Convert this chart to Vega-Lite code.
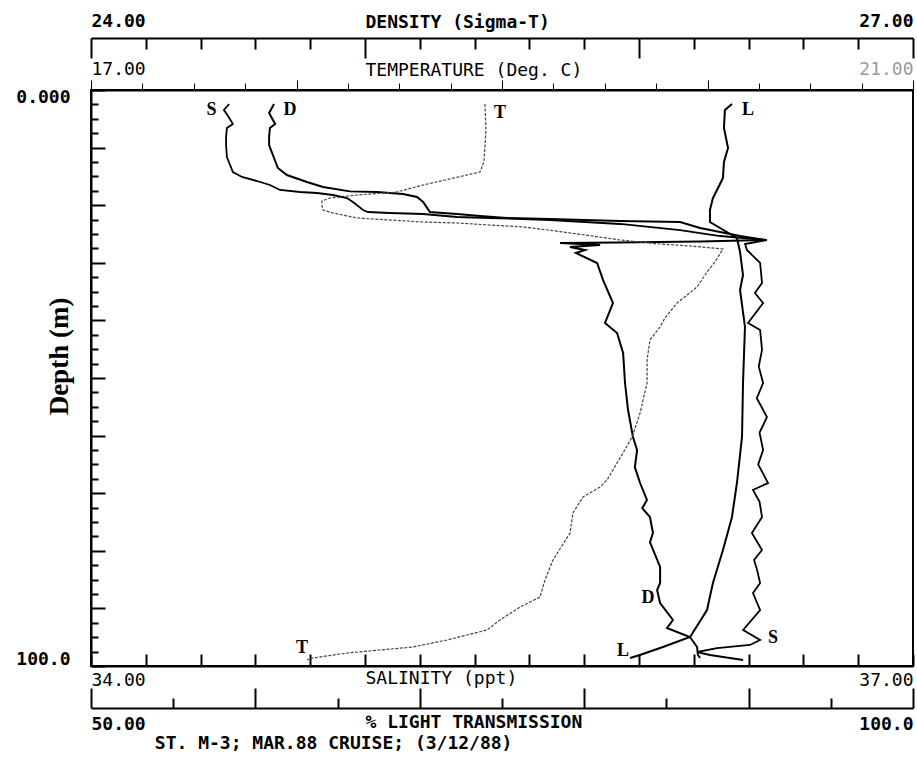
{
  "$schema": "https://vega.github.io/schema/vega-lite/v6.json",
  "width": 822,
  "height": 576,
  "autosize": "none",
  "padding": {"left": 91, "top": 90, "right": 4, "bottom": 99},
  "background": "white",
  "config": {
    "view": {"stroke": "black", "strokeWidth": 2},
    "axis": {
      "grid": false, "domainColor": "black", "domainWidth": 2, "tickColor": "black", "tickWidth": 2,
      "labelColor": "black", "titleColor": "black", "labelFont": "DejaVu Sans Mono", "titleFont": "DejaVu Sans Mono",
      "labelFontSize": 18, "titleFontSize": 18, "labelOverlap": false, "labelAngle": 0
    }
  },
  "title": {
    "text": "ST. M-3; MAR.88 CRUISE; (3/12/88)", "orient": "bottom", "anchor": "start", "dx": 139, "offset": -8,
    "font": "DejaVu Sans Mono", "fontSize": 18, "fontWeight": "bold", "color": "black"
  },
  "datasets": {
    "sal": [
      {"depth": 2.43, "v": 34.504}, {"depth": 3.47, "v": 34.485}, {"depth": 4.51, "v": 34.5}, {"depth": 5.9, "v": 34.518},
      {"depth": 6.6, "v": 34.496}, {"depth": 8.16, "v": 34.493}, {"depth": 9.55, "v": 34.493}, {"depth": 11.63, "v": 34.496},
      {"depth": 14.24, "v": 34.518}, {"depth": 15.1, "v": 34.551}, {"depth": 15.8, "v": 34.606}, {"depth": 16.49, "v": 34.653},
      {"depth": 17.36, "v": 34.69}, {"depth": 17.71, "v": 34.763}, {"depth": 17.88, "v": 34.825}, {"depth": 18.23, "v": 34.883},
      {"depth": 18.75, "v": 34.934}, {"depth": 19.44, "v": 34.956}, {"depth": 20.83, "v": 34.993}, {"depth": 21.18, "v": 35.011},
      {"depth": 21.35, "v": 35.091}, {"depth": 21.53, "v": 35.212}, {"depth": 22.05, "v": 35.336}, {"depth": 22.22, "v": 35.456},
      {"depth": 22.4, "v": 35.577}, {"depth": 22.57, "v": 35.675}, {"depth": 23.26, "v": 35.931}, {"depth": 24.31, "v": 36.15},
      {"depth": 25.35, "v": 36.296}, {"depth": 26.04, "v": 36.467}, {"depth": 26.74, "v": 36.387}, {"depth": 27.78, "v": 36.394},
      {"depth": 30.03, "v": 36.442}, {"depth": 33.51, "v": 36.449}, {"depth": 35.24, "v": 36.423}, {"depth": 36.98, "v": 36.453},
      {"depth": 40.45, "v": 36.398}, {"depth": 41.67, "v": 36.442}, {"depth": 45.14, "v": 36.449}, {"depth": 48.0, "v": 36.437},
      {"depth": 50.87, "v": 36.453}, {"depth": 53.5, "v": 36.43}, {"depth": 56.77, "v": 36.467}, {"depth": 59.5, "v": 36.44},
      {"depth": 62.5, "v": 36.453}, {"depth": 65.0, "v": 36.435}, {"depth": 68.23, "v": 36.471}, {"depth": 69.44, "v": 36.416},
      {"depth": 71.5, "v": 36.44}, {"depth": 74.13, "v": 36.449}, {"depth": 76.91, "v": 36.412}, {"depth": 79.86, "v": 36.449},
      {"depth": 81.6, "v": 36.42}, {"depth": 83.33, "v": 36.431}, {"depth": 85.59, "v": 36.442}, {"depth": 87.33, "v": 36.416},
      {"depth": 90.28, "v": 36.442}, {"depth": 93.75, "v": 36.38}, {"depth": 95.49, "v": 36.442}, {"depth": 96.35, "v": 36.405},
      {"depth": 96.88, "v": 36.285}, {"depth": 97.57, "v": 36.212}, {"depth": 98.09, "v": 36.259}, {"depth": 98.44, "v": 36.307},
      {"depth": 98.96, "v": 36.38}
    ],
    "den": [
      {"depth": 2.43, "v": 24.668}, {"depth": 3.99, "v": 24.65}, {"depth": 5.9, "v": 24.672}, {"depth": 6.6, "v": 24.653},
      {"depth": 8.16, "v": 24.65}, {"depth": 9.55, "v": 24.65}, {"depth": 10.94, "v": 24.661}, {"depth": 13.54, "v": 24.682},
      {"depth": 14.76, "v": 24.715}, {"depth": 15.97, "v": 24.788}, {"depth": 16.84, "v": 24.847}, {"depth": 17.6, "v": 24.945},
      {"depth": 17.71, "v": 25.044}, {"depth": 18.06, "v": 25.139}, {"depth": 18.58, "v": 25.19}, {"depth": 19.44, "v": 25.212},
      {"depth": 21.18, "v": 25.237}, {"depth": 21.35, "v": 25.285}, {"depth": 21.53, "v": 25.336}, {"depth": 21.88, "v": 25.42},
      {"depth": 22.22, "v": 25.518}, {"depth": 22.4, "v": 25.675}, {"depth": 22.74, "v": 25.931}, {"depth": 22.92, "v": 26.15},
      {"depth": 23.96, "v": 26.223}, {"depth": 25.35, "v": 26.369}, {"depth": 26.04, "v": 26.46}, {"depth": 26.3, "v": 26.223},
      {"depth": 26.48, "v": 25.92}, {"depth": 26.56, "v": 25.712}, {"depth": 26.91, "v": 25.858}, {"depth": 27.26, "v": 25.748},
      {"depth": 27.78, "v": 25.803}, {"depth": 28.3, "v": 25.77}, {"depth": 30.03, "v": 25.847}, {"depth": 32.99, "v": 25.869},
      {"depth": 36.98, "v": 25.905}, {"depth": 40.45, "v": 25.876}, {"depth": 42.19, "v": 25.92}, {"depth": 45.66, "v": 25.942},
      {"depth": 50.87, "v": 25.949}, {"depth": 55.56, "v": 25.96}, {"depth": 60.24, "v": 25.978}, {"depth": 62.5, "v": 25.993},
      {"depth": 65.5, "v": 25.985}, {"depth": 68.23, "v": 26.004}, {"depth": 71.18, "v": 26.029}, {"depth": 72.6, "v": 26.012},
      {"depth": 74.13, "v": 26.04}, {"depth": 76.91, "v": 26.051}, {"depth": 78.5, "v": 26.04}, {"depth": 82.81, "v": 26.077},
      {"depth": 85.59, "v": 26.077}, {"depth": 86.81, "v": 26.066}, {"depth": 89.06, "v": 26.077}, {"depth": 92.01, "v": 26.124},
      {"depth": 93.4, "v": 26.102}, {"depth": 94.97, "v": 26.186}, {"depth": 96.7, "v": 26.212}, {"depth": 98.09, "v": 26.215},
      {"depth": 98.61, "v": 26.223}
    ],
    "tmp": [
      {"depth": 2.43, "v": 18.917}, {"depth": 6.94, "v": 18.922}, {"depth": 12.5, "v": 18.912}, {"depth": 14.24, "v": 18.893},
      {"depth": 14.76, "v": 18.83}, {"depth": 15.63, "v": 18.723}, {"depth": 16.49, "v": 18.616}, {"depth": 17.71, "v": 18.489},
      {"depth": 18.23, "v": 18.294}, {"depth": 18.75, "v": 18.163}, {"depth": 19.27, "v": 18.124}, {"depth": 20.14, "v": 18.124},
      {"depth": 20.83, "v": 18.129}, {"depth": 21.35, "v": 18.178}, {"depth": 22.22, "v": 18.294}, {"depth": 22.57, "v": 18.455},
      {"depth": 22.92, "v": 18.616}, {"depth": 23.09, "v": 18.781}, {"depth": 23.44, "v": 18.942}, {"depth": 23.78, "v": 19.102},
      {"depth": 24.31, "v": 19.224}, {"depth": 25.17, "v": 19.404}, {"depth": 26.04, "v": 19.574}, {"depth": 26.74, "v": 19.769},
      {"depth": 27.08, "v": 19.915}, {"depth": 27.6, "v": 20.075}, {"depth": 29.86, "v": 20.036}, {"depth": 31.6, "v": 19.998},
      {"depth": 34.2, "v": 19.949}, {"depth": 36.98, "v": 19.852}, {"depth": 39.58, "v": 19.793}, {"depth": 41.15, "v": 19.769},
      {"depth": 43.4, "v": 19.72}, {"depth": 46.88, "v": 19.706}, {"depth": 50.87, "v": 19.706}, {"depth": 53.82, "v": 19.686},
      {"depth": 56.08, "v": 19.672}, {"depth": 60.24, "v": 19.633}, {"depth": 63.02, "v": 19.589}, {"depth": 67.71, "v": 19.511},
      {"depth": 68.92, "v": 19.477}, {"depth": 70.66, "v": 19.394}, {"depth": 73.44, "v": 19.345}, {"depth": 76.91, "v": 19.331},
      {"depth": 81.6, "v": 19.248}, {"depth": 85.07, "v": 19.209}, {"depth": 88.02, "v": 19.185}, {"depth": 89.76, "v": 19.088},
      {"depth": 92.01, "v": 18.99}, {"depth": 93.75, "v": 18.927}, {"depth": 95.49, "v": 18.732}, {"depth": 96.7, "v": 18.567},
      {"depth": 97.22, "v": 18.406}, {"depth": 97.74, "v": 18.246}, {"depth": 98.61, "v": 18.08}, {"depth": 98.96, "v": 18.051}
    ],
    "lt": [
      {"depth": 2.43, "v": 88.99}, {"depth": 3.47, "v": 88.56}, {"depth": 6.6, "v": 88.5}, {"depth": 10.07, "v": 88.75},
      {"depth": 12.5, "v": 88.5}, {"depth": 15.28, "v": 88.44}, {"depth": 17.01, "v": 88.14}, {"depth": 18.75, "v": 87.83},
      {"depth": 20.83, "v": 87.65}, {"depth": 22.92, "v": 87.65}, {"depth": 23.96, "v": 88.26}, {"depth": 25.69, "v": 89.29},
      {"depth": 28.13, "v": 89.48}, {"depth": 32.12, "v": 89.66}, {"depth": 34.72, "v": 89.48}, {"depth": 41.15, "v": 89.78},
      {"depth": 50.87, "v": 89.66}, {"depth": 60.24, "v": 89.6}, {"depth": 68.23, "v": 89.29}, {"depth": 74.13, "v": 88.99},
      {"depth": 79.86, "v": 88.44}, {"depth": 85.59, "v": 87.83}, {"depth": 90.28, "v": 87.47}, {"depth": 94.97, "v": 86.44},
      {"depth": 96.7, "v": 84.79}, {"depth": 98.09, "v": 83.39}, {"depth": 98.61, "v": 82.79}
    ],
    "labels": [
      {"s": "S", "depth": 3.47, "v": 34.44, "lab": "S"}, {"s": "S", "depth": 95.14, "v": 36.489, "lab": "S"},
      {"s": "D", "depth": 3.47, "v": 24.726, "lab": "D"}, {"s": "D", "depth": 88.19, "v": 26.033, "lab": "D"},
      {"s": "T", "depth": 3.99, "v": 18.99, "lab": "T"}, {"s": "T", "depth": 96.88, "v": 18.027, "lab": "T"},
      {"s": "L", "depth": 3.47, "v": 89.96, "lab": "L"}, {"s": "L", "depth": 97.4, "v": 82.36, "lab": "L"}
    ]
  },
  "encoding": {
    "y": {
      "field": "depth", "type": "quantitative",
      "scale": {"domain": [0, 100], "reverse": true, "nice": false, "zero": false},
      "axis": {
        "values": [0,2.5,5,7.5,10,12.5,15,17.5,20,22.5,25,27.5,30,32.5,35,37.5,40,42.5,45,47.5,50,52.5,55,57.5,60,62.5,65,67.5,70,72.5,75,77.5,80,82.5,85,87.5,90,92.5,95,97.5,100],
        "tickSize": {"condition": {"test": "datum.value % 10 === 0", "value": -14}, "value": -7},
        "labelExpr": "datum.value == 0 ? '0.000' : datum.value == 100 ? '100.0' : ''",
        "labelFlush": true, "labelFlushOffset": 2, "labelPadding": 35, "labelFontWeight": "bold",
        "title": "Depth (m)", "titleFont": "Liberation Serif", "titleFontSize": 27, "titleFontWeight": "bold",
        "titleAngle": -90, "titleX": -24, "titleY": 266, "titleAlign": "center", "titleBaseline": "alphabetic"
      }
    }
  },
  "layer": [
    {
      "encoding": {
        "x": {
          "field": "v", "type": "quantitative",
          "scale": {"domain": [24, 27], "nice": false, "zero": false},
          "axis": {
            "orient": "top", "offset": 52,
            "values": [24,24.2,24.4,24.6,24.8,25,25.2,25.4,25.6,25.8,26,26.2,26.4,26.6,26.8,27],
            "tickSize": {"condition": {"test": "datum.value % 1 === 0", "value": -20}, "value": -11},
            "labelExpr": "datum.value == 24 ? '24.00' : datum.value == 27 ? '27.00' : ''",
            "labelFlush": true, "labelPadding": 28, "labelFontWeight": "bold",
            "title": "DENSITY (Sigma-T)", "titleFontWeight": "bold",
            "titleX": 274, "titleY": -11, "titleAlign": "left", "titleBaseline": "alphabetic"
          }
        }
      },
      "layer": [
        {"data": {"name": "den"}, "mark": {"type": "line", "stroke": "black", "strokeWidth": 2}, "encoding": {"order": {"field": "depth", "type": "quantitative"}}},
        {"data": {"name": "labels"}, "transform": [{"filter": "datum.s == 'D'"}],
         "mark": {"type": "text", "font": "Liberation Serif", "fontWeight": "bold", "fontSize": 18, "color": "black"},
         "encoding": {"text": {"field": "lab"}}}
      ]
    },
    {
      "encoding": {
        "x": {
          "field": "v", "type": "quantitative",
          "scale": {"domain": [17, 21], "nice": false, "zero": false},
          "axis": {
            "orient": "top", "offset": 0,
            "values": [17,17.25,17.5,17.75,18,18.25,18.5,18.75,19,19.25,19.5,19.75,20,20.25,20.5,20.75,21],
            "tickSize": {"condition": {"test": "datum.value % 1 === 0", "value": 10}, "value": 7},
            "tickWidth": 1,
            "labelExpr": "datum.value == 17 ? '17.00' : datum.value == 21 ? '21.00' : ''",
            "labelColor": {"condition": {"test": "datum.value == 21", "value": "#9a9a9a"}, "value": "black"},
            "labelFlush": true, "labelPadding": 2,
            "title": "TEMPERATURE (Deg. C)", "titleFontWeight": "normal",
            "titleX": 274, "titleY": -15, "titleAlign": "left", "titleBaseline": "alphabetic"
          }
        }
      },
      "layer": [
        {"data": {"name": "tmp"}, "mark": {"type": "line", "stroke": "#444", "strokeWidth": 1.2, "strokeDash": [3, 1.5]}, "encoding": {"order": {"field": "depth", "type": "quantitative"}}},
        {"data": {"name": "labels"}, "transform": [{"filter": "datum.s == 'T'"}],
         "mark": {"type": "text", "font": "Liberation Serif", "fontWeight": "bold", "fontSize": 18, "color": "black"},
         "encoding": {"text": {"field": "lab"}}}
      ]
    },
    {
      "encoding": {
        "x": {
          "field": "v", "type": "quantitative",
          "scale": {"domain": [34, 37], "nice": false, "zero": false},
          "axis": {
            "orient": "bottom", "offset": 0,
            "values": [34,34.2,34.4,34.6,34.8,35,35.2,35.4,35.6,35.8,36,36.2,36.4,36.6,36.8,37],
            "tickSize": -12,
            "labelExpr": "datum.value == 34 ? '34.00' : datum.value == 37 ? '37.00' : ''",
            "labelFlush": true, "labelPadding": 17,
            "title": "SALINITY (ppt)", "titleFontWeight": "normal",
            "titleX": 274, "titleY": 17, "titleAlign": "left", "titleBaseline": "alphabetic"
          }
        }
      },
      "layer": [
        {"data": {"name": "sal"}, "mark": {"type": "line", "stroke": "black", "strokeWidth": 1.8}, "encoding": {"order": {"field": "depth", "type": "quantitative"}}},
        {"data": {"name": "labels"}, "transform": [{"filter": "datum.s == 'S'"}],
         "mark": {"type": "text", "font": "Liberation Serif", "fontWeight": "bold", "fontSize": 18, "color": "black"},
         "encoding": {"text": {"field": "lab"}}}
      ]
    },
    {
      "encoding": {
        "x": {
          "field": "v", "type": "quantitative",
          "scale": {"domain": [50, 100], "nice": false, "zero": false},
          "axis": {
            "orient": "bottom", "offset": 42,
            "values": [50,55,60,65,70,75,80,85,90,95,100],
            "tickSize": {"condition": {"test": "datum.value % 10 === 0", "value": -20}, "value": -10},
            "labelExpr": "datum.value == 50 ? '50.00' : datum.value == 100 ? '100.0' : ''",
            "labelFlush": true, "labelPadding": 27, "labelFontWeight": "bold",
            "title": "% LIGHT TRANSMISSION", "titleFontWeight": "bold",
            "titleX": 274, "titleY": 19, "titleAlign": "left", "titleBaseline": "alphabetic"
          }
        }
      },
      "layer": [
        {"data": {"name": "lt"}, "mark": {"type": "line", "stroke": "black", "strokeWidth": 2}, "encoding": {"order": {"field": "depth", "type": "quantitative"}}},
        {"data": {"name": "labels"}, "transform": [{"filter": "datum.s == 'L'"}],
         "mark": {"type": "text", "font": "Liberation Serif", "fontWeight": "bold", "fontSize": 18, "color": "black"},
         "encoding": {"text": {"field": "lab"}}}
      ]
    }
  ],
  "resolve": {"scale": {"x": "independent"}, "axis": {"x": "independent"}}
}
